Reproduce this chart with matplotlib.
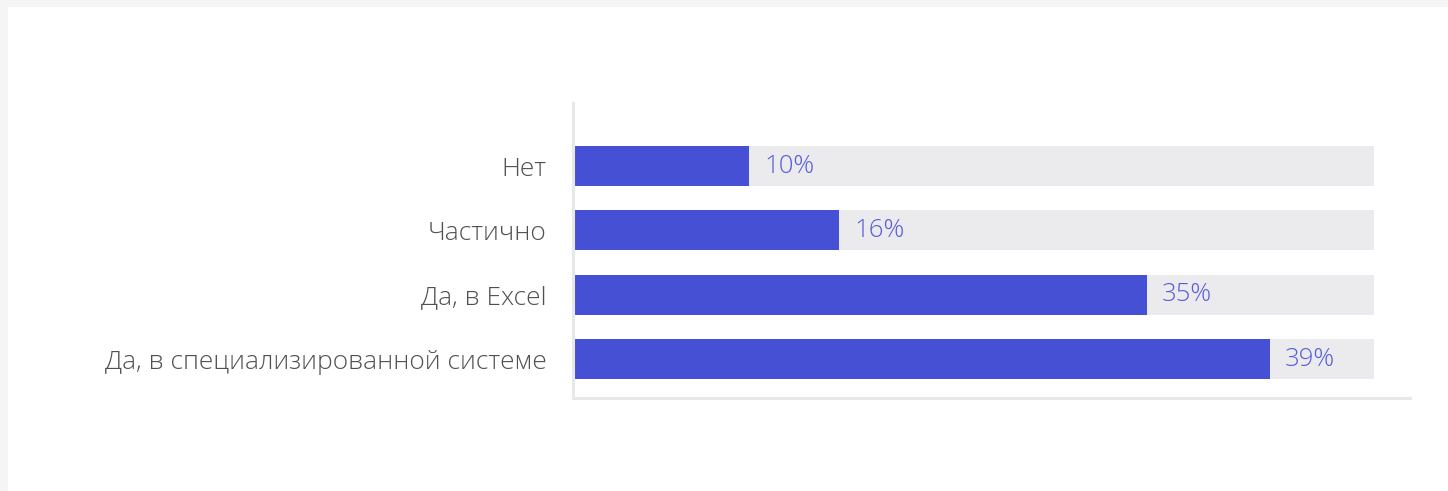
import matplotlib
matplotlib.use("Agg")
import matplotlib.pyplot as plt
from matplotlib.patches import Rectangle

# data
categories = ["Нет", "Частично", "Да, в Excel", "Да, в специализированной системе"]
bar_lengths = [21.9, 33.2, 71.6, 87.0]   # bar length as share of the grey track
pct_labels = ["10%", "16%", "35%", "39%"]
track_max = 100

bar_color = "#4650d5"
track_color = "#ebebee"
pct_color = "#555ddb"
label_color = "#505050"
spine_color = "#e8e8e8"

plt.rcParams["font.family"] = ["Open Sans", "DejaVu Sans"]

fig = plt.figure(figsize=(14.48, 4.91), dpi=100, facecolor="#f5f5f5")
# white card behind everything
fig.patches.append(Rectangle((8 / 1448, 0), 1 - 8 / 1448, 1 - 7 / 491,
                             transform=fig.transFigure, facecolor="white",
                             edgecolor="none", zorder=-10))

ax = fig.add_axes([573 / 1448, 1 - 398 / 491, (1410 - 573) / 1448, (398 - 103) / 491])
ax.set_facecolor("none")
ax.set_zorder(5)

ypos = list(range(len(categories)))
ax.barh(ypos, [track_max] * len(ypos), height=0.62, color=track_color, zorder=1)
ax.barh(ypos, bar_lengths, height=0.62, color=bar_color, zorder=2)

for y, v, t in zip(ypos, bar_lengths, pct_labels):
    ax.text(v + 1.9, y, t, va="center", ha="left", fontsize=18.5,
            color=pct_color, fontweight="light", zorder=3)

ax.set_yticks(ypos)
ax.set_yticklabels(categories, fontsize=19, color=label_color, fontweight="light")
ax.tick_params(axis="y", length=0, pad=19)
ax.set_xticks([])
ax.set_xlim(-0.1, 104.5)
ax.set_ylim(3.606, -0.98)

for s in ["top", "right"]:
    ax.spines[s].set_visible(False)
for s in ["left", "bottom"]:
    ax.spines[s].set_color(spine_color)
    ax.spines[s].set_linewidth(2.2)

fig.savefig("out.png", dpi=100, facecolor=fig.get_facecolor())
